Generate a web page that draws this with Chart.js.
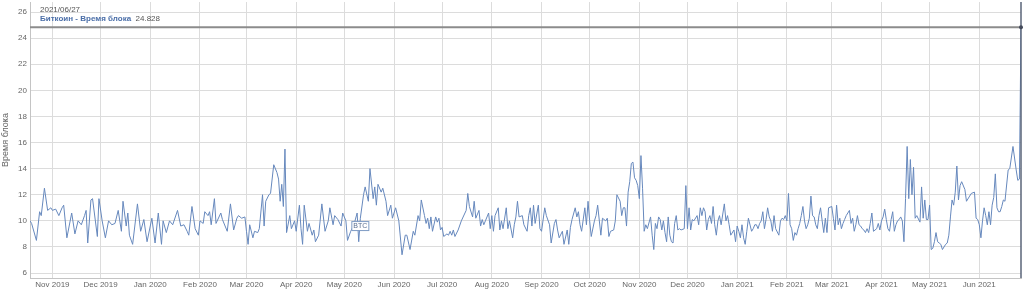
<!DOCTYPE html>
<html lang="ru">
<head>
<meta charset="UTF-8">
<script src="https://cdn.jsdelivr.net/npm/chart.js"></script>
<title>Биткоин - Время блока</title>
<style>
  html, body { margin: 0; padding: 0; background: #fff; }
</style>
</head>
<body>
<canvas id="myChart" width="1024" height="291"></canvas>
<script>
// Day offsets are counted from 2019-11-01
const baseDate = Date.UTC(2019, 10, 1);
const seriesName = 'Биткоин - Время блока';
const axisTitle = 'Время блока';

const tickDates = ['2019-11-01', '2019-12-01', '2020-01-01', '2020-02-01', '2020-03-01', '2020-04-01',
  '2020-05-01', '2020-06-01', '2020-07-01', '2020-08-01', '2020-09-01', '2020-10-01', '2020-11-01',
  '2020-12-01', '2021-01-01', '2021-02-01', '2021-03-01', '2021-04-01', '2021-05-01', '2021-06-01'];
const tickLabels = ['Nov 2019', 'Dec 2019', 'Jan 2020', 'Feb 2020', 'Mar 2020', 'Apr 2020',
  'May 2020', 'Jun 2020', 'Jul 2020', 'Aug 2020', 'Sep 2020', 'Oct 2020', 'Nov 2020',
  'Dec 2020', 'Jan 2021', 'Feb 2021', 'Mar 2021', 'Apr 2021', 'May 2021', 'Jun 2021'];
const yTicks = [6, 8, 10, 12, 14, 16, 18, 20, 22, 24, 26];

const flagDates = ['2020-05-11'];
const flagTexts = ['BTC'];

const days = [
  -14, -13, -10, -8, -7, -5, -3, -1,
  0, 2, 4, 6, 7, 9, 12, 14, 16, 18, 20, 21, 22, 24, 25, 28, 29,
  31, 33, 35, 37, 39, 41, 43, 44, 46, 47, 48, 50, 53, 55, 57, 59,
  62, 64, 66, 68, 69, 71, 73, 75, 78, 80, 82, 84, 85, 87, 89, 91,
  92, 94, 95, 97, 98, 99, 101, 102, 105, 106, 109, 111, 113, 115, 116, 118, 120,
  121, 122, 123, 125, 126, 128, 129, 131, 132, 133, 135, 136, 138, 140, 141, 142, 143, 144, 145, 146, 148, 149, 151,
  152, 154, 155, 156, 157, 159, 160, 162, 163, 164, 166, 168, 170, 172, 173, 175, 176, 178, 180, 181,
  183, 184, 186, 188, 190, 191, 192, 194, 195, 197, 198, 200, 201, 202, 203, 205, 206, 208, 209, 211, 212,
  214, 216, 218, 220, 221, 223, 225, 226, 228, 229, 230, 232, 233, 234, 235, 236, 237, 239, 240, 241, 242,
  243, 244, 246, 247, 248, 249, 250, 251, 253, 255, 258, 259, 260, 262, 263, 264, 266, 267, 268, 269, 270, 272, 273,
  274, 275, 276, 278, 279, 280, 281, 283, 284, 285, 287, 288, 289, 290, 291, 293, 294, 296, 297, 298, 299, 300, 301, 303,
  304, 305, 307, 308, 310, 311, 313, 314, 315, 316, 318, 319, 321, 322, 323, 324, 326, 327, 328, 329, 330, 332, 333, 334,
  335, 336, 338, 339, 340, 342, 343, 345, 346, 347, 348, 350, 351, 352, 354, 355, 356, 357, 358, 359, 360, 361, 362, 363, 364,
  365, 366, 367, 368, 369, 370, 371, 373, 374, 375, 376, 377, 378, 379, 380, 381, 382, 383, 384, 385, 386, 387, 388, 389, 390, 391, 392, 394,
  395, 396, 397, 398, 399, 400, 402, 403, 404, 405, 406, 407, 408, 409, 410, 411, 412, 413, 414, 415, 416, 417, 419, 420, 421, 422, 423, 425,
  426, 427, 428, 429, 430, 431, 432, 433, 434, 436, 437, 438, 439, 440, 441, 442, 443, 444, 445, 446, 447, 448, 449, 450, 451, 453, 454, 455, 456, 457,
  458, 459, 460, 461, 462, 463, 464, 465, 466, 467, 468, 469, 470, 471, 472, 473, 474, 475, 476, 477, 478, 479, 480, 481, 482, 483, 484,
  486, 487, 488, 489, 490, 491, 492, 493, 494, 495, 497, 498, 499, 500, 501, 502, 503, 504, 505, 506, 507, 508, 509, 510, 511, 512, 514, 515, 516,
  517, 518, 519, 520, 521, 522, 523, 524, 525, 526, 527, 528, 529, 530, 531, 532, 533, 534, 535, 536, 537, 538, 539, 541, 542, 543, 544, 545, 546,
  547, 548, 549, 550, 551, 552, 553, 554, 555, 557, 558, 559, 560, 561, 562, 563, 564, 565, 566, 567, 569, 570, 572, 573, 575, 576, 577,
  578, 579, 580, 581, 582, 583, 584, 585, 586, 587, 588, 589, 590, 591, 592, 593, 594, 596, 597, 599, 601, 602, 603, 604
];
const blockTime = [
  10.0, 9.8, 8.5, 10.7, 10.4, 12.5, 10.8, 11.0,
  10.8, 10.9, 10.4, 11.0, 11.2, 8.7, 10.6, 9.0, 10.0, 9.7, 10.4, 10.8, 8.3, 11.6, 11.7, 8.8, 11.7,
  10.0, 8.7, 10.0, 9.7, 9.8, 10.8, 9.2, 11.5, 9.6, 10.6, 8.9, 8.2, 11.3, 9.2, 10.1, 8.4,
  10.2, 8.3, 10.6, 8.2, 10.0, 9.1, 10.0, 9.7, 10.8, 9.6, 9.7, 9.2, 8.9, 11.1, 9.4, 8.9,
  10.0, 9.8, 10.7, 10.4, 10.7, 9.7, 11.7, 9.8, 10.6, 10.1, 9.2, 11.3, 9.3, 10.2, 10.4, 10.2, 10.3,
  9.2, 8.2, 9.7, 8.7, 9.2, 9.1, 9.4, 12.0, 9.6, 11.5, 12.0, 12.1, 14.3, 13.7, 13.2, 11.5, 12.8, 11.1, 15.5, 9.1, 10.4, 9.4, 10.0,
  9.2, 11.2, 9.4, 8.2, 11.2, 9.2, 9.8, 8.9, 9.3, 8.4, 8.9, 11.3, 9.2, 10.0, 11.0, 9.7, 10.4, 10.1, 9.6, 10.6,
  10.0, 8.5, 9.2, 9.7, 10.6, 8.4, 10.2, 12.0, 12.6, 11.5, 14.0, 11.7, 12.6, 11.2, 12.8, 12.2, 12.5, 11.5, 10.4, 11.2, 10.2,
  11.0, 10.0, 7.4, 8.9, 8.9, 7.8, 9.2, 8.9, 10.4, 10.0, 11.6, 10.4, 9.8, 10.2, 9.4, 10.3, 9.2, 10.3, 9.9, 10.2, 9.3,
  9.5, 8.8, 9.0, 8.9, 9.2, 8.9, 9.3, 8.8, 9.3, 10.0, 10.8, 12.1, 11.1, 10.3, 11.5, 10.2, 10.8, 9.6, 10.1, 9.7, 10.0, 10.6, 9.4,
  10.4, 9.2, 10.4, 11.0, 9.3, 10.0, 9.4, 11.0, 9.4, 10.0, 8.7, 9.7, 10.3, 11.5, 10.3, 10.4, 9.7, 9.2, 10.4, 11.0, 9.6, 11.2, 9.8, 11.2,
  9.4, 9.2, 11.0, 10.4, 9.7, 8.3, 9.8, 10.1, 9.3, 8.7, 9.2, 8.2, 9.3, 8.2, 9.5, 10.1, 11.0, 10.3, 10.7, 9.7, 9.2, 11.0, 9.7, 11.5,
  10.0, 8.8, 10.0, 10.4, 11.2, 8.9, 10.2, 10.0, 10.2, 8.8, 9.2, 9.3, 10.0, 12.0, 11.5, 10.4, 11.0, 11.0, 9.6, 12.2, 13.0, 14.4, 14.5, 13.3, 13.1,
  12.7, 11.7, 15.0, 12.5, 9.2, 9.7, 9.4, 10.3, 8.9, 7.8, 9.8, 9.4, 10.3, 10.1, 9.3, 10.0, 9.1, 8.4, 10.3, 8.9, 8.4, 8.3, 9.8, 10.4, 9.3, 9.4, 9.3, 9.4,
  12.7, 9.4, 11.0, 9.3, 10.1, 10.0, 10.4, 9.7, 11.0, 10.4, 11.0, 10.7, 9.3, 10.1, 10.4, 9.8, 11.1, 9.7, 8.9, 10.0, 10.4, 9.7, 11.3, 10.0, 10.4, 9.7, 8.9, 9.3,
  8.4, 9.6, 9.2, 8.7, 9.7, 8.7, 8.2, 9.2, 10.2, 9.2, 9.4, 9.7, 9.7, 9.4, 9.8, 10.0, 10.7, 9.4, 10.1, 11.0, 10.3, 10.0, 9.2, 10.4, 9.4, 8.9, 10.0, 10.2, 10.1, 10.4,
  10.0, 12.1, 9.7, 9.4, 8.5, 9.1, 8.9, 9.4, 9.8, 10.4, 11.1, 10.0, 9.4, 9.7, 10.2, 11.9, 10.4, 10.3, 9.7, 9.4, 10.4, 11.0, 10.0, 9.1, 10.2, 9.1, 11.0,
  11.1, 10.2, 9.3, 11.2, 9.7, 10.2, 9.4, 9.8, 10.1, 10.4, 10.8, 9.8, 10.2, 9.2, 9.7, 10.4, 9.7, 9.6, 9.4, 9.3, 9.1, 9.4, 9.1, 9.8, 10.6, 9.2, 9.4, 9.8, 9.3,
  10.0, 10.3, 10.9, 10.1, 9.4, 9.2, 10.1, 10.7, 9.2, 9.7, 10.0, 10.1, 10.3, 10.0, 8.4, 11.7, 15.7, 11.7, 14.7, 12.0, 14.1, 10.2, 10.4, 9.9, 12.6, 10.2, 11.6, 10.1, 10.1,
  11.2, 7.8, 7.9, 8.4, 9.1, 8.4, 8.3, 8.2, 7.8, 8.2, 8.3, 8.9, 10.3, 11.6, 11.2, 12.2, 14.2, 11.6, 12.7, 13.0, 12.4, 11.5, 11.9, 12.1, 12.2, 10.2, 10.1,
  9.7, 8.7, 10.0, 11.0, 10.4, 9.7, 10.7, 9.7, 11.2, 11.8, 13.6, 11.0, 10.7, 10.7, 11.1, 11.6, 11.5, 13.9, 14.0, 15.7, 13.9, 13.1, 13.2, 24.828
];

const font = "'Liberation Sans', Arial, sans-serif";
const dayOf = s => Math.round((Date.parse(s) - baseDate) / 864e5);
const tickDays = tickDates.map(dayOf);
const points = days.map((d, i) => ({ x: d, y: blockTime[i] }));

const fmtDate = d => {
  const t = new Date(baseDate + d * 864e5);
  const p = n => String(n).padStart(2, '0');
  return t.getUTCFullYear() + '/' + p(t.getUTCMonth() + 1) + '/' + p(t.getUTCDate());
};

// crosshair, hover text and flag
const overlay = {
  id: 'overlay',
  afterDatasetsDraw(chart) {
    const { ctx, chartArea: a, scales: { x, y } } = chart;
    const n = days.length - 1;
    const px = x.getPixelForValue(days[n]);
    const py = y.getPixelForValue(blockTime[n]);
    ctx.save();
    ctx.strokeStyle = '#8c8c8c';
    ctx.lineWidth = 2;
    ctx.beginPath(); ctx.moveTo(a.left, py); ctx.lineTo(a.right, py); ctx.stroke();
    ctx.strokeStyle = '#5a6478';
    ctx.lineWidth = 1.5;
    ctx.beginPath(); ctx.moveTo(px, a.top); ctx.lineTo(px, a.bottom); ctx.stroke();
    ctx.fillStyle = '#444a5a';
    ctx.beginPath(); ctx.arc(px, py, 2, 0, Math.PI * 2); ctx.fill();

    ctx.textBaseline = 'middle';
    ctx.textAlign = 'left';
    ctx.font = '8px ' + font;
    ctx.fillStyle = '#555';
    ctx.fillText(fmtDate(days[n]), 40, 10);
    ctx.font = 'bold 8px ' + font;
    ctx.fillStyle = '#4a6ea8';
    ctx.fillText(seriesName, 40, 18.5);
    const w = ctx.measureText(seriesName + '  ').width;
    ctx.font = '8px ' + font;
    ctx.fillStyle = '#555';
    ctx.fillText(blockTime[n].toFixed(3), 40 + w, 18.5);

    flagDates.forEach((s, i) => {
      const fx = x.getPixelForValue(dayOf(s));
      const fy = y.getPixelForValue(9.6);
      ctx.fillStyle = '#fff';
      ctx.strokeStyle = '#7f9cc4';
      ctx.lineWidth = 1;
      ctx.fillRect(fx - 8.5, fy - 4.5, 17, 9);
      ctx.strokeRect(fx - 8.5, fy - 4.5, 17, 9);
      ctx.font = '7px ' + font;
      ctx.fillStyle = '#5a6f90';
      ctx.textAlign = 'center';
      ctx.fillText(flagTexts[i], fx, fy + 0.5);
    });
    ctx.restore();
  }
};

const ctx = document.getElementById('myChart').getContext('2d');
const myChart = new Chart(ctx, {
  type: 'line',
  data: {
    datasets: [{
      label: seriesName,
      data: points,
      borderColor: '#6688bd',
      borderWidth: 1,
      pointRadius: 0,
      tension: 0,
      fill: false
    }]
  },
  options: {
    responsive: false,
    animation: false,
    layout: { padding: { top: 2, right: 3, left: 0, bottom: 0 } },
    plugins: { legend: { display: false }, tooltip: { enabled: false } },
    scales: {
      x: {
        type: 'linear',
        min: -14,
        max: 604,
        afterBuildTicks: s => { s.ticks = tickDays.map(v => ({ value: v })); },
        afterFit: s => { s.height = 13; s.paddingLeft = 0; s.paddingRight = 0; },
        ticks: {
          autoSkip: false,
          maxRotation: 0,
          padding: 2,
          color: '#666',
          font: { size: 8, family: font },
          callback: (v, i) => tickLabels[i]
        },
        grid: { color: '#dcdcdc', drawTicks: false },
        border: { color: '#c4c4c4' }
      },
      y: {
        min: 5.62,
        max: 26.77,
        afterBuildTicks: s => { s.ticks = yTicks.map(v => ({ value: v })); },
        afterFit: s => { s.width = 30; s.paddingTop = 0; s.paddingBottom = 0; },
        ticks: {
          padding: 3,
          color: '#666',
          font: { size: 8, family: font }
        },
        title: {
          display: true,
          text: axisTitle,
          color: '#666',
          padding: 0,
          font: { size: 9, family: font }
        },
        grid: { color: '#dcdcdc', drawTicks: false },
        border: { color: '#c4c4c4' }
      }
    }
  },
  plugins: [overlay]
});
</script>
</body>
</html>
